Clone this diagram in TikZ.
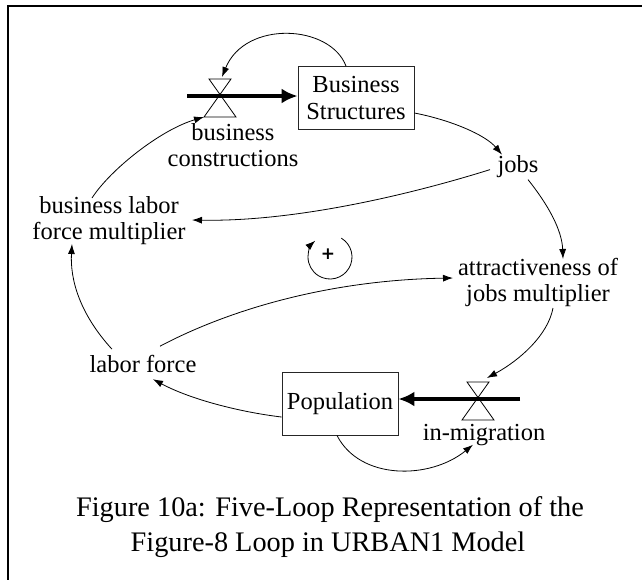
\documentclass[tikz,border=0pt]{standalone}
\usepackage{fontspec}
\setmainfont{Liberation Serif}
\newfontfamily\plusfont{DejaVu Sans}
\usetikzlibrary{arrows.meta}
\begin{document}
\begin{tikzpicture}[x=1pt,y=-1pt,
  lbl/.style={inner sep=0pt, align=center, font=\fontsize{24.5}{26.5}\selectfont},
  stock/.style={draw=black!85, line width=0.9pt, minimum width=116pt, minimum height=63pt, inner sep=0pt, align=center, font=\fontsize{24.5}{26.5}\selectfont},
  link/.style={line width=0.8pt, -{Latex[length=10pt,width=7pt]}},
  flow/.style={line width=3.3pt, -{Latex[length=16pt,width=15pt]}},
  valve/.style={line width=0.8pt, line join=miter},
  capt/.style={inner sep=0pt, anchor=base, font=\fontsize{28.3}{35}\selectfont}
]
\useasboundingbox (0,0) rectangle (642,579);
% frame
\draw[line width=2pt] (8,580) -- (8,6) -- (643,6);

% stocks
\node[stock] (BS) at (356,98) {Business\\Structures};
\node[stock] (Pop) at (340,403.5) {Population};

% valves and flows
\coordinate (v1) at (220,96);
\coordinate (v2) at (478,399);
\coordinate (src1) at (187,96);
\coordinate (src2) at (520,399);
\draw[flow] (src1) -- (src1 -| BS.west);
\draw[flow] (src2) -- (src2 -| Pop.east);
\draw[valve, shift={(v1)}] (-11,-17) -- (11,-17) -- (-16,21) -- (16,21) -- cycle;
\draw[valve, shift={(v2)}] (-11,-17) -- (11,-17) -- (-16,21) -- (16,21) -- cycle;

% auxiliaries
\node[lbl] (bc) at (233,145) {business\\constructions};
\node[lbl] (blfm) at (109,220.5) {business labor\\force multiplier};
\node[lbl, anchor=base] (jobs) at (518,172) {jobs};
\node[lbl] (attr) at (538,282.5) {attractiveness of\\jobs multiplier};
\node[lbl, anchor=base] (lf) at (143,372) {labor force};
\node[lbl, anchor=base] (im) at (484,440) {in-migration};

% loop marker
\coordinate (loopc) at (330,257);
\node[inner sep=0pt, font=\plusfont\fontsize{17}{17}\selectfont\bfseries] (plus) at (328,254) {+};
\draw[link] ([shift={(-59:22)}]loopc) arc[start angle=-59, end angle=228, radius=22];

% links
\draw[link] ([shift={(-10,0)}]BS.north) .. controls +(-16,-42) and +(23,-57) .. ([shift={(2,-19)}]v1);
\draw[link] ([shift={(-17,-22.5)}]blfm.center) .. controls +(18,-28) and +(-44,13) .. ([shift={(-16,21)}]v1);
\draw[link] ([shift={(0,15)}]BS.east) .. controls +(36,7) and +(-17,-20) .. ([shift={(-16,-11.5)}]jobs.center);
\draw[link] ([shift={(-28,3.5)}]jobs.center) .. controls +(-70,22) and +(108,2) .. ([shift={(83,-0.5)}]blfm.center);
\draw[link] ([shift={(10,13.5)}]jobs.center) .. controls +(20,25) and +(-1,-29) .. ([shift={(25,-23.5)}]attr.center);
\draw[link] ([shift={(-31,-14.3)}]lf.center) .. controls +(-32,-35) and +(-2,36) .. ([shift={(-37,23.5)}]blfm.center);
\draw[link] ([shift={(17,-17.3)}]lf.center) .. controls +(70,-37) and +(-123,2) .. ([shift={(-85,-4.5)}]attr.center);
\draw[link] ([shift={(15,25.5)}]attr.center) .. controls +(-5,27) and +(33,-18) .. ([shift={(9,-21)}]v2);
\draw[link] ([shift={(0,13.5)}]Pop.west) .. controls +(-42,-5) and +(37,20) .. ([shift={(10,15.7)}]lf.center);
\draw[link] ([shift={(-3,0)}]Pop.south) .. controls +(23,45) and +(-43,35) .. ([shift={(-11,10.2)}]im.center);

% caption
\node[capt] (cap1) at (330,516) {Figure 10a: Five-Loop Representation of the};
\node[capt] (cap2) at (328,551) {Figure-8 Loop in URBAN1 Model};
\end{tikzpicture}
\end{document}
